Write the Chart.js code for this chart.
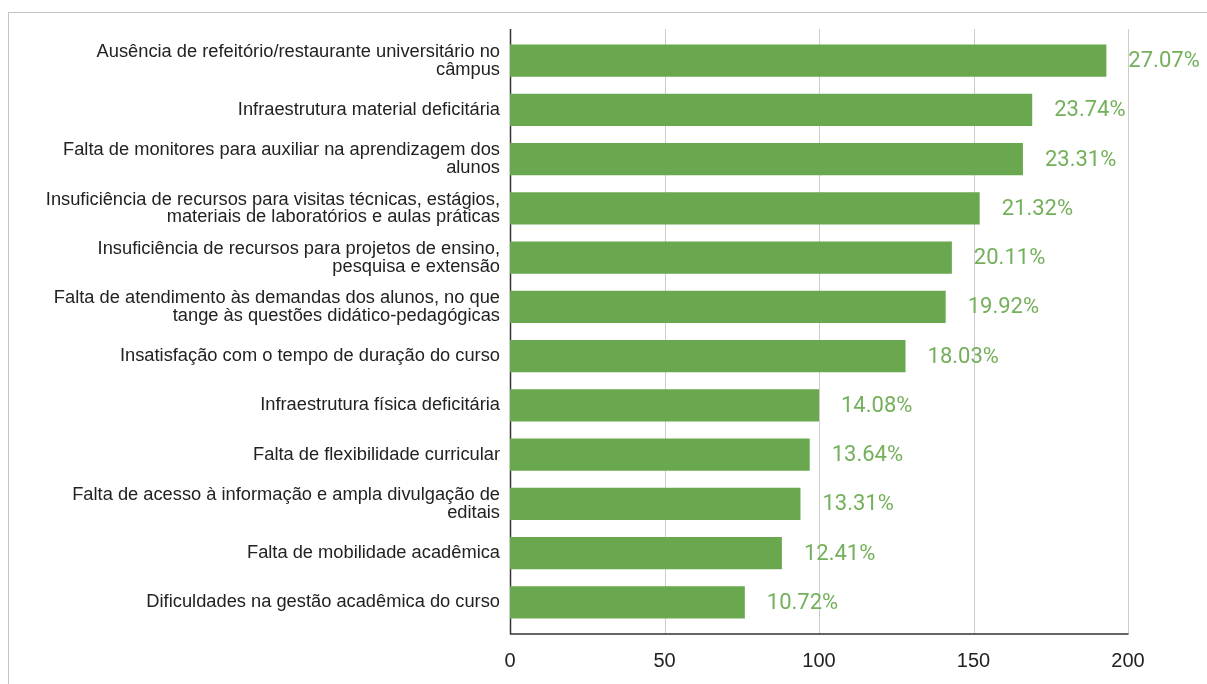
<!DOCTYPE html>
<html>
<head>
<meta charset="utf-8">
<script src="https://cdn.jsdelivr.net/npm/chart.js@4/dist/chart.umd.min.js"></script>
<style>
  html, body { margin: 0; padding: 0; background: #fff; }
  body { width: 1207px; height: 684px; position: relative; overflow: hidden; }
  #frame { position: absolute; left: 8px; top: 12px; width: 1400px; height: 900px; border: 1px solid #c4c4c4; }
  #wrap { position: absolute; left: 0; top: 0; width: 1207px; height: 684px; }
</style>
</head>
<body>
<div id="frame"></div>
<div id="wrap"><canvas id="chart"></canvas></div>
<script>
// categories (top to bottom)
const categories = [
    ['Ausência de refeitório/restaurante universitário no', 'câmpus'],
    'Infraestrutura material deficitária',
    ['Falta de monitores para auxiliar na aprendizagem dos', 'alunos'],
    ['Insuficiência de recursos para visitas técnicas, estágios,', 'materiais de laboratórios e aulas práticas'],
    ['Insuficiência de recursos para projetos de ensino,', 'pesquisa e extensão'],
    ['Falta de atendimento às demandas dos alunos, no que', 'tange às questões didático-pedagógicas'],
    'Insatisfação com o tempo de duração do curso',
    'Infraestrutura física deficitária',
    'Falta de flexibilidade curricular',
    ['Falta de acesso à informação e ampla divulgação de', 'editais'],
    'Falta de mobilidade acadêmica',
    'Dificuldades na gestão acadêmica do curso'
];
const counts = [193, 169, 166, 152, 143, 141, 128, 100, 97, 94, 88, 76];
const percents = ['27.07%', '23.74%', '23.31%', '21.32%', '20.11%', '19.92%',
                  '18.03%', '14.08%', '13.64%', '13.31%', '12.41%', '10.72%'];
const xTicks = [0, 50, 100, 150, 200];

const green = '#6aa84f';
const EXT = 7; // axis lines run a bit past the bar bands

// grid + axis lines drawn by hand so they can extend past the category bands
const axisLines = {
    id: 'axisLines',
    beforeDatasetsDraw(chart) {
        const { ctx, chartArea: a, scales: { x } } = chart;
        ctx.save();
        ctx.lineWidth = 1;
        ctx.strokeStyle = '#cccccc';
        xTicks.forEach(v => {
            if (v === 0) return;
            const px = Math.round(x.getPixelForValue(v)) + 0.5;
            ctx.beginPath();
            ctx.moveTo(px, a.top - EXT);
            ctx.lineTo(px, a.bottom + EXT);
            ctx.stroke();
        });
        ctx.strokeStyle = '#333333';
        ctx.lineWidth = 1.5;
        const x0 = Math.round(x.getPixelForValue(0)) + 0.5;
        ctx.beginPath();
        ctx.moveTo(x0, a.top - EXT);
        ctx.lineTo(x0, a.bottom + EXT);
        ctx.lineTo(Math.round(x.getPixelForValue(200)) + 0.5, a.bottom + EXT);
        ctx.stroke();
        ctx.restore();
    }
};

// percentage labels right of each bar
const barLabels = {
    id: 'barLabels',
    afterDatasetsDraw(chart) {
        const { ctx } = chart;
        const meta = chart.getDatasetMeta(0);
        ctx.save();
        ctx.font = '22px Roboto';
        ctx.fillStyle = '#74b05b';
        ctx.textAlign = 'left';
        ctx.textBaseline = 'middle';
        meta.data.forEach((bar, i) => {
            ctx.fillText(percents[i], bar.x + 22, bar.y + 1);
        });
        ctx.restore();
    }
};

new Chart(document.getElementById('chart'), {
    type: 'bar',
    data: {
        labels: categories,
        datasets: [{
            data: counts,
            backgroundColor: green,
            borderWidth: 0,
            categoryPercentage: 1,
            barPercentage: 0.65
        }]
    },
    options: {
        indexAxis: 'y',
        responsive: true,
        maintainAspectRatio: false,
        animation: false,
        layout: { padding: { top: 36, right: 79, left: 0, bottom: 0 } },
        plugins: {
            legend: { display: false },
            tooltip: { enabled: false }
        },
        scales: {
            x: {
                min: 0,
                max: 200,
                afterBuildTicks: s => { s.ticks = xTicks.map(v => ({ value: v })); },
                afterFit: s => { s.height = 57; },
                grid: { display: false, drawTicks: false },
                border: { display: false },
                ticks: {
                    padding: 22,
                    color: '#222',
                    font: { family: 'Liberation Sans, Arial', size: 20 }
                }
            },
            y: {
                afterFit: s => { s.width = 510; },
                grid: { display: false, drawTicks: false },
                border: { display: false },
                ticks: {
                    padding: 10,
                    color: '#222',
                    font: { family: 'Liberation Sans, Arial', size: 18.3, lineHeight: 0.97 }
                }
            }
        }
    },
    plugins: [axisLines, barLabels]
});
</script>
</body>
</html>
